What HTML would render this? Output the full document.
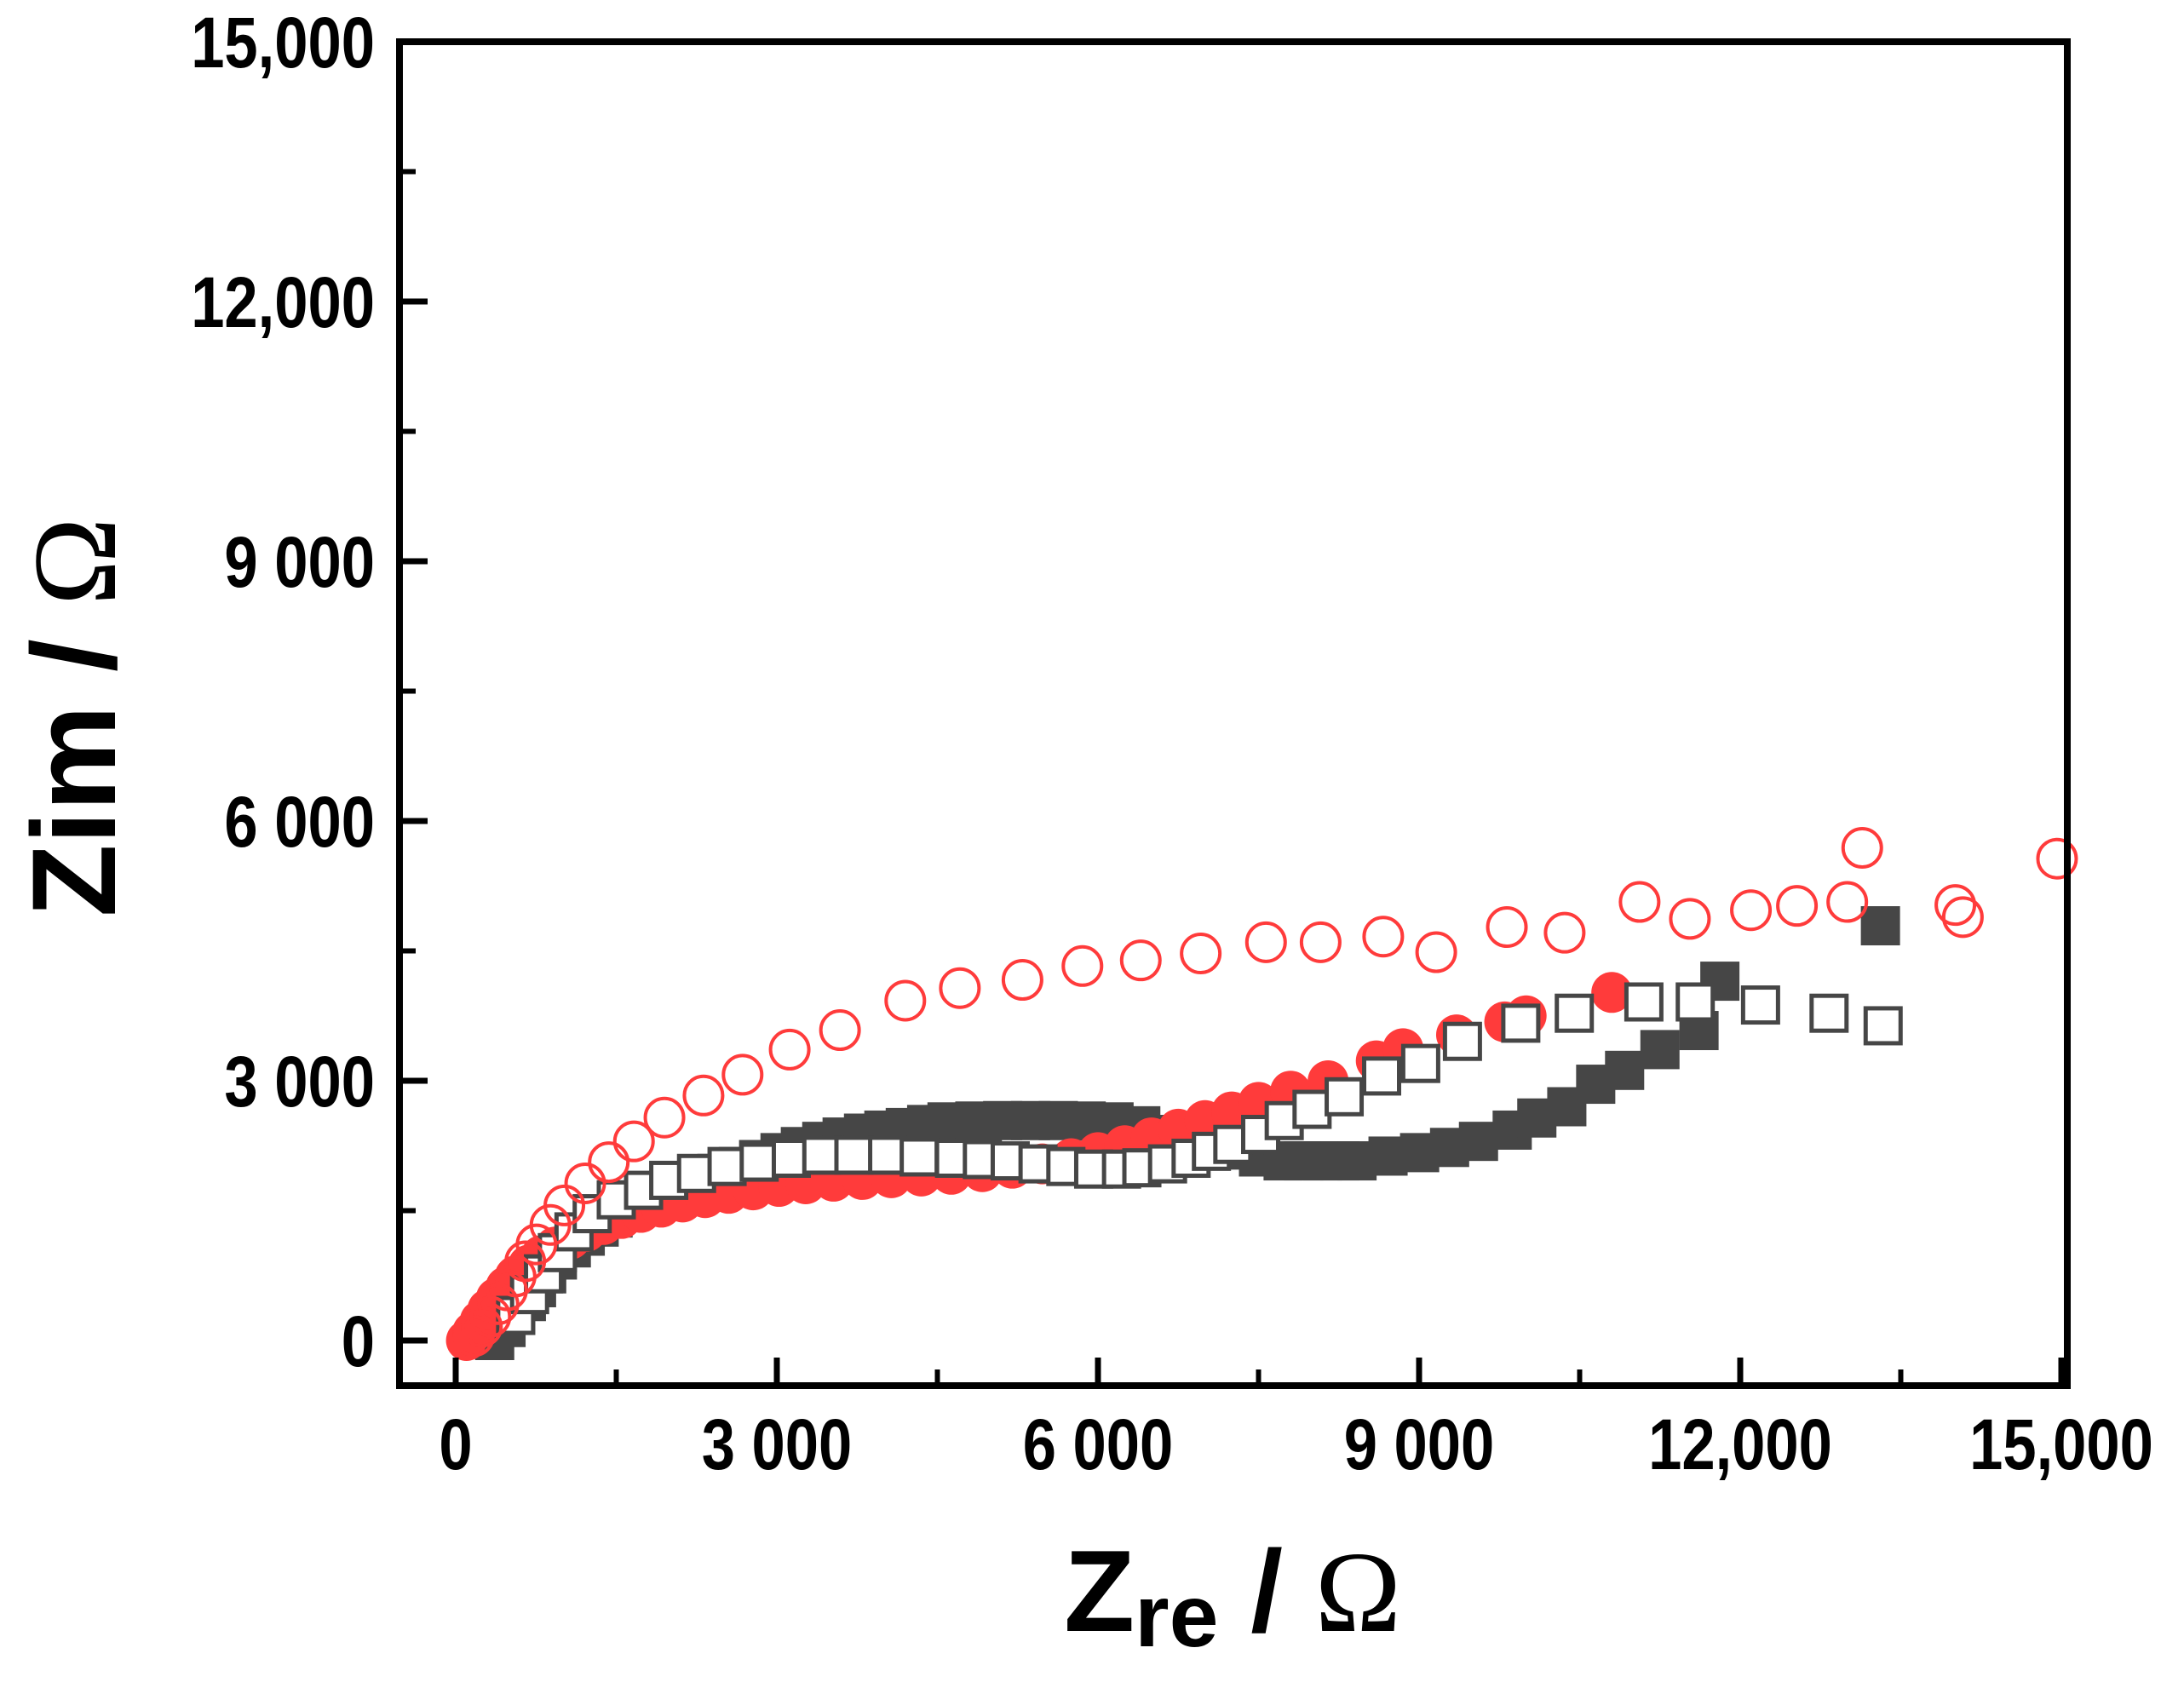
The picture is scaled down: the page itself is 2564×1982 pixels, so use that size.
<!DOCTYPE html>
<html><head><meta charset="utf-8"><style>
html,body{margin:0;padding:0;background:#fff;}
svg{display:block;}
text{font-family:"Liberation Sans",Arial,sans-serif;font-weight:bold;fill:#000;}
</style></head><body>
<svg id="chart" width="2564" height="1982" viewBox="0 0 2564 1982" xmlns="http://www.w3.org/2000/svg">
<g id="marks"></g>
<g id="axes"></g>
</svg>
<script>
const xTicks=[0,3000,6000,9000,12000,15000];
const xTickLabels=["0","3 000","6 000","9 000","12,000","15,000"];
const yTicks=[0,3000,6000,9000,12000,15000];
const yTickLabels=["0","3 000","6 000","9 000","12,000","15,000"];
const minorTicks=[1500,4500,7500,10500,13500];

const filledSqX=[364,470,560,660,755,850,950,1080,1210,1340,1470,1660,1860,2050,2250,2440,2640,2830,3030,3220,3420,3610,3810,4000,4200,4400,4590,4850,5110,5370,5630,5890,6150,6400,6700,7000,7250,7500,7730,7920,8100,8260,8420,8710,9005,9285,9555,9870,10100,10380,10650,10920,11250,11615,11810,13310];
const filledSqY=[0,150,290,450,610,770,930,1070,1205,1310,1415,1540,1655,1750,1850,1930,2010,2090,2170,2240,2300,2350,2395,2430,2460,2495,2525,2535,2540,2540,2540,2535,2525,2480,2380,2280,2200,2120,2075,2075,2075,2075,2075,2130,2170,2230,2300,2430,2570,2700,2960,3120,3360,3580,4150,4790];

const filledCircX=[100,160,230,300,380,470,570,680,800,930,1070,1220,1380,1550,1730,1920,2120,2330,2550,2780,3020,3270,3530,3800,4070,4350,4630,4920,5200,5480,5750,6000,6250,6500,6750,7000,7250,7500,7800,8150,8600,8850,9350,9800,10000,10800];
const filledCircY=[0,100,230,360,490,620,750,870,980,1080,1170,1260,1340,1410,1480,1540,1600,1650,1700,1740,1780,1810,1840,1860,1880,1900,1920,1950,1990,2040,2100,2170,2250,2340,2440,2540,2640,2750,2880,3000,3230,3370,3530,3680,3750,4020];

const openSqX=[560,690,820,950,1105,1275,1500,1755,1990,2250,2535,2835,3135,3420,3720,4035,4330,4660,4920,5180,5440,5700,5960,6220,6410,6650,6870,7060,7260,7520,7740,8000,8300,8650,9015,9405,9950,10450,11100,11580,12190,12830,13335];
const openSqY=[290,530,770,1015,1255,1465,1625,1735,1850,1930,2010,2060,2105,2140,2140,2140,2120,2105,2090,2075,2040,2010,1980,1980,1995,2040,2105,2185,2265,2380,2540,2670,2815,3055,3200,3455,3665,3780,3910,3910,3875,3780,3635];

const openCircX=[170,245,325,400,480,560,650,755,885,1015,1210,1430,1665,1950,2315,2680,3120,3590,4200,4710,5295,5855,6400,6960,7570,8080,8665,9160,9820,10360,11060,11530,12100,12530,13000,13140,14010,14080,14960];
const openCircY=[50,160,275,420,580,740,915,1110,1335,1560,1815,2060,2300,2575,2830,3070,3360,3585,3925,4070,4165,4325,4390,4470,4600,4600,4665,4485,4775,4710,5065,4870,4970,5020,5065,5690,5030,4890,5565];

const X0=535, XS=(2420-535)/15000, Y0=1574, YS=(1574-49)/15000;
function sx(v){return X0+v*XS;}
function sy(v){return Y0-v*YS;}
const NS="http://www.w3.org/2000/svg";
const marks=document.getElementById('marks');
const axes=document.getElementById('axes');
function mk(tag,attrs,parent){const e=document.createElementNS(NS,tag);for(const k in attrs)e.setAttribute(k,attrs[k]);parent.appendChild(e);return e;}

const S=46;
const g1=mk('g',{},marks);


filledSqX.forEach((v,i)=>{const r=mk('rect',{x:sx(v)-S/2,y:sy(filledSqY[i])-S/2,width:S,height:S,fill:'#464646'},g1);

});

const g2=mk('g',{},marks);


filledCircX.forEach((v,i)=>{const c=mk('circle',{cx:sx(v),cy:sy(filledCircY[i]),r:24,fill:'#ff3b3b'},g2);

});

const g3=mk('g',{},marks);


openSqX.forEach((v,i)=>{const r=mk('rect',{x:sx(v)-S/2+2.5,y:sy(openSqY[i])-S/2+2.5,width:S-5,height:S-5,fill:'#fff',stroke:'#464646','stroke-width':5},g3);

});

const g4=mk('g',{},marks);


openCircX.forEach((v,i)=>{const c=mk('circle',{cx:sx(v),cy:sy(openCircY[i]),r:22.5,fill:'none',stroke:'#ff3b3b','stroke-width':4},g4);

});

const fr=mk('rect',{x:469,y:49,width:1958,height:1578,fill:'none',stroke:'#000','stroke-width':8},axes);


xTicks.forEach((v,i)=>{
 const t=mk('line',{x1:sx(v),x2:sx(v),y1:1627,y2:1594,stroke:'#000','stroke-width':7},axes);
 
 
 const l=mk('text',{x:sx(v),y:1725,'font-size':84,'text-anchor':'middle',transform:`translate(${sx(v)},0) scale(0.84,1) translate(${-sx(v)},0)`},axes);
 l.textContent=xTickLabels[i];
 
 
});
yTicks.forEach((v,i)=>{
 const t=mk('line',{x1:469,x2:502,y1:sy(v),y2:sy(v),stroke:'#000','stroke-width':7},axes);
 
 
 const l=mk('text',{x:440,y:sy(v)+30,'font-size':84,'text-anchor':'end',transform:`translate(440,0) scale(0.84,1) translate(-440,0)`},axes);
 l.textContent=yTickLabels[i];
 
 
});
minorTicks.forEach(v=>{
 const t=mk('line',{x1:sx(v),x2:sx(v),y1:1627,y2:1608,stroke:'#000','stroke-width':6},axes);
 
 
 const u=mk('line',{x1:469,x2:488,y1:sy(v),y2:sy(v),stroke:'#000','stroke-width':6},axes);
 
 
});
</script>
<svg style="position:absolute;left:0;top:0" width="2564" height="1982" xmlns="http://www.w3.org/2000/svg">
<text x="1447" y="1915" text-anchor="middle" font-size="136"><tspan>Z</tspan><tspan font-size="104" dy="18">re</tspan><tspan dy="-18"> / </tspan><tspan font-family="Liberation Serif, serif" font-weight="normal">Ω</tspan></text>
<text transform="translate(135,842) rotate(-90)" text-anchor="middle" font-size="140">Zim / <tspan font-family="Liberation Serif, serif" font-weight="normal">Ω</tspan></text>
</svg>
</body></html>
